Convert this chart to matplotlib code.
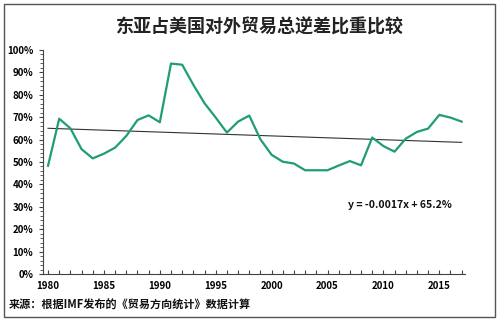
import numpy as np
import matplotlib.pyplot as plt
from matplotlib.patches import Rectangle
from matplotlib.ticker import FuncFormatter, MultipleLocator

plt.rcParams['font.family'] = ['Noto Sans CJK SC', 'DejaVu Sans']
plt.rcParams['axes.unicode_minus'] = False

# 年份与东亚占比（%）
years = list(range(1980, 2018))
share = [48.3, 69.3, 65.0, 55.7, 51.6, 53.7, 56.4, 61.6, 68.7, 70.8,
         67.7, 93.9, 93.4, 84.4, 76.2, 69.8, 63.1, 68.0, 70.7, 60.1,
         53.2, 50.1, 49.3, 46.3, 46.3, 46.3, 48.4, 50.4, 48.5, 60.9,
         57.1, 54.6, 60.4, 63.4, 64.9, 71.0, 69.8, 68.0]
# 趋势线 y = -0.0017x + 65.2%
slope = -0.0017
intercept = 0.652
eq_text = 'y = -0.0017x + 65.2%'
title = '东亚占美国对外贸易总逆差比重比较'
source = '来源：根据IMF发布的《贸易方向统计》数据计算'

fig = plt.figure(figsize=(5, 3.22), dpi=100)
fig.patches.append(Rectangle((0.008, 0.016), 0.982, 0.972, transform=fig.transFigure,
                             fill=False, edgecolor='#555555', linewidth=1.0))

ax = fig.add_axes([0.086, 0.149, 0.844, 0.696])
x = np.array(years)
y = np.array(share) / 100
ax.plot(x, y, color='#1f9e6e', linewidth=1.6, zorder=3)

idx = np.arange(1, len(years) + 1)
ax.plot(x, slope * idx + intercept, color='#333333', linewidth=0.8, zorder=2)

ax.set_xlim(1979.55, 2017.3)
ax.set_ylim(0, 1)
ax.yaxis.set_major_locator(MultipleLocator(0.1))
ax.yaxis.set_minor_locator(MultipleLocator(0.02))
ax.yaxis.set_major_formatter(FuncFormatter(lambda v, p: '%d%%' % round(v * 100)))
ax.set_xticks(range(1980, 2016, 5))
ax.xaxis.set_minor_locator(MultipleLocator(1))

for s in ['top', 'right']:
    ax.spines[s].set_visible(False)
for s in ['left', 'bottom']:
    ax.spines[s].set_color('#444444')
    ax.spines[s].set_linewidth(0.8)

ax.tick_params(axis='y', which='major', length=3, width=0.8, color='#444444',
               labelsize=7, pad=4)
ax.tick_params(axis='y', which='minor', length=2, width=0.6, color='#444444')
ax.tick_params(axis='x', which='both', direction='in', length=3, width=0.8,
               color='#444444', labelsize=7, pad=5)
for lab in ax.get_xticklabels() + ax.get_yticklabels():
    lab.set_fontweight('bold')

ax.text(2006.8, 0.31, eq_text, fontsize=7.5, fontweight='bold', color='#111111',
        va='center')

fig.text(0.52, 0.915, title, ha='center', va='center', fontsize=13,
         fontweight='bold', color='#222222')
fig.text(0.018, 0.052, source, ha='left', va='center', fontsize=8,
         fontweight='bold', color='#111111')

fig.savefig('out.png', dpi=100, facecolor='white')
